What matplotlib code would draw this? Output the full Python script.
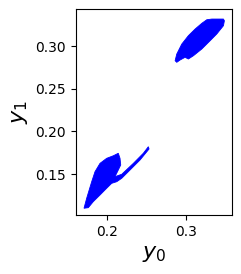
import matplotlib
matplotlib.use("Agg")
import matplotlib.pyplot as plt

# outline of the upper cluster (y0, y1)
upper_y0 = [0.2864, 0.2885, 0.2949, 0.3033, 0.3119, 0.3204, 0.3268, 0.3332,
            0.3480, 0.3492, 0.3480, 0.3395, 0.3310, 0.3204, 0.3097, 0.3033,
            0.2991, 0.2927, 0.2885]
upper_y1 = [0.2828, 0.2906, 0.3023, 0.3121, 0.3199, 0.3266, 0.3308, 0.3316,
            0.3316, 0.3296, 0.3238, 0.3141, 0.3062, 0.2965, 0.2886, 0.2848,
            0.2868, 0.2836, 0.2809]

# outline of the lower cluster with its thin tail
lower_y0 = [0.1703, 0.1737, 0.1801, 0.1843, 0.1907, 0.1992, 0.2077, 0.2140,
            0.2162, 0.2171, 0.2140, 0.2098, 0.2184, 0.2332, 0.2459, 0.2523,
            0.2532, 0.2417, 0.2268, 0.2184, 0.2120, 0.2056, 0.1992, 0.1907,
            0.1821, 0.1758]
lower_y1 = [0.1100, 0.1217, 0.1411, 0.1528, 0.1626, 0.1685, 0.1715, 0.1744,
            0.1685, 0.1607, 0.1548, 0.1470, 0.1498, 0.1626, 0.1744, 0.1821,
            0.1794, 0.1665, 0.1528, 0.1451, 0.1411, 0.1392, 0.1334, 0.1255,
            0.1177, 0.1107]

x_ticks = [0.2, 0.3]
y_ticks = [0.15, 0.20, 0.25, 0.30]

fig = plt.figure(figsize=(2.41, 2.74), dpi=100)
ax = fig.add_axes([0.315, 0.215, 0.648, 0.751])

ax.fill(upper_y0, upper_y1, color="blue", linewidth=0.6)
ax.fill(lower_y0, lower_y1, color="blue", linewidth=0.6)

ax.set_xlim(0.160, 0.359)
ax.set_ylim(0.102, 0.343)
ax.set_xticks(x_ticks)
ax.set_yticks(y_ticks)
ax.tick_params(labelsize=10)
ax.set_xlabel(r"$y_0$", fontsize=16)
ax.set_ylabel(r"$y_1$", fontsize=16)

fig.savefig("out.png", dpi=100)
